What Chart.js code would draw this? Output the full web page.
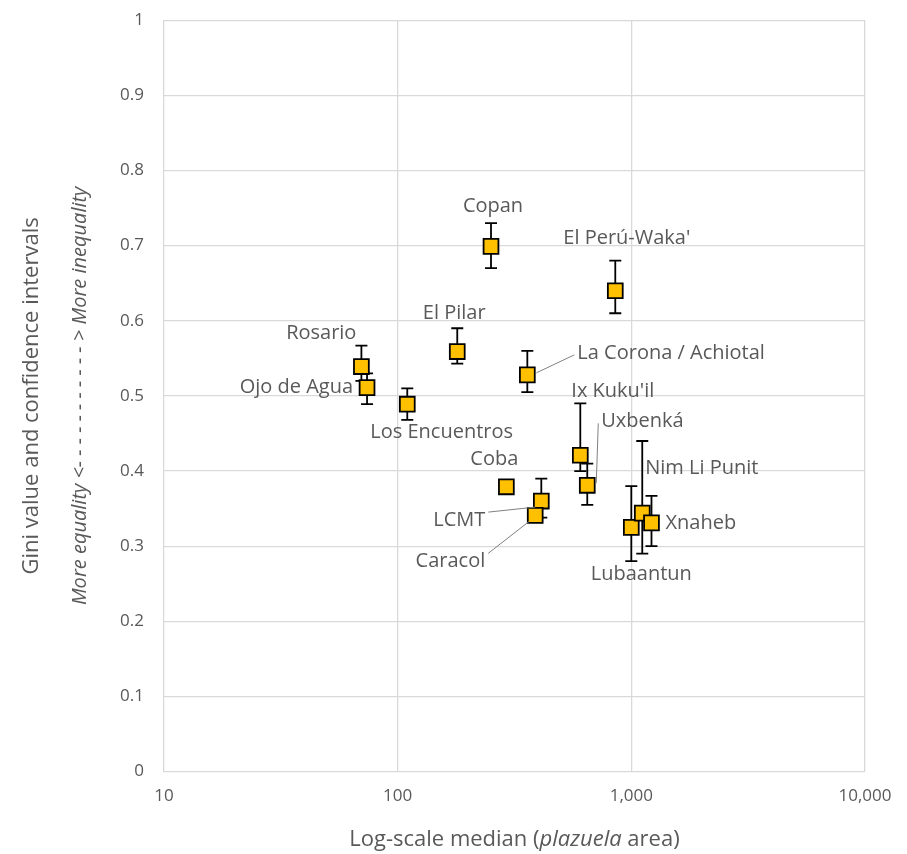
<!DOCTYPE html>
<html><head><meta charset="utf-8">
<script src="https://cdn.jsdelivr.net/npm/chart.js@4"></script>
<style>body{margin:0;background:#fff;overflow:hidden}#w{width:907px;height:872px;margin-top:-10px}</style>
</head><body><div id="w"><canvas id="c"></canvas></div>
<script>
const sites = ["Copan","El Perú-Waka'","Rosario","Ojo de Agua","Los Encuentros","El Pilar","La Corona / Achiotal","Ix Kuku'il","Uxbenká","Coba","LCMT","Caracol","Lubaantun","Nim Li Punit","Xnaheb"];
const medianArea = [251,854,70,74,110,180,359,605,648,292,412,388,1000,1114,1220];
const gini = [0.699,0.640,0.539,0.511,0.489,0.559,0.528,0.421,0.381,0.379,0.360,0.341,0.325,0.344,0.331];
const ciLow = [0.670,0.610,0.520,0.489,0.468,0.543,0.505,0.400,0.355,0.379,0.338,0.333,0.280,0.290,0.300];
const ciHigh = [0.730,0.680,0.567,0.530,0.510,0.590,0.560,0.490,0.410,0.379,0.390,0.345,0.380,0.440,0.367];
const xTicks = [10,100,1000,10000];
const yTicks = [0,0.1,0.2,0.3,0.4,0.5,0.6,0.7,0.8,0.9,1];
// label placement: [dx, dy, align, leaderLine]
const labelPlace = [
 [2,-40,'center',false],[-52,-52,'left',false],[-5,-33,'right',false],[-14,0,'right',false],
 [-37,28,'left',false],[-3,-38,'center',false],[50,-22,'left',true],[-9,-64,'left',false],
 [14,-64,'left',true],[-12,-28,'center',false],[-56,19,'right',true],[-50,46,'right',true],
 [10,47,'center',false],[3,-45,'left',false],[14,0,'left',false]];
const pts = medianArea.map((x,i)=>({x:x,y:gini[i]}));
const F='"Open Sans", "DejaVu Sans", sans-serif';
const errPlugin = {id:'err', beforeDatasetsDraw(ch){
  const c=ch.ctx,xs=ch.scales.x,ys=ch.scales.y;c.save();c.strokeStyle='#000';c.lineWidth=1.8;
  medianArea.forEach((m,i)=>{const x=xs.getPixelForValue(m),a=ys.getPixelForValue(ciLow[i]),b=ys.getPixelForValue(ciHigh[i]);
    c.beginPath();c.moveTo(x,a);c.lineTo(x,b);c.moveTo(x-6,a);c.lineTo(x+6,a);c.moveTo(x-6,b);c.lineTo(x+6,b);c.stroke();});
  c.restore();},
 afterDatasetsDraw(ch){
  const c=ch.ctx,xs=ch.scales.x,ys=ch.scales.y;c.save();
  c.font='20px '+F;c.fillStyle='#595959';c.textBaseline='middle';
  sites.forEach((s,i)=>{const x=xs.getPixelForValue(medianArea[i]),y=ys.getPixelForValue(gini[i]);const p=labelPlace[i];
    c.textAlign=p[2];const lx=x+p[0],ly=y+p[1];c.fillText(s,lx,ly);
    if(p[3]){c.strokeStyle='#808080';c.lineWidth=1;c.beginPath();
      let ex=p[2]==='right'?lx+3:lx-3;c.moveTo(ex,ly+(p[1]<0?2:-8));c.lineTo(x+(p[0]>0?9:-6),y+(p[1]<0?-2:6));c.stroke();}
  });
  const ca=ch.chartArea;
  c.fillStyle='#595959';
  c.font='22px '+F;
  const t1='Log-scale median (',t2='plazuela',t3=' area)';
  const w1=c.measureText(t1).width,w3=c.measureText(t3).width;
  c.font='italic 22px '+F;const w2=c.measureText(t2).width;
  let sx=(ca.left+ca.right)/2-(w1+w2+w3)/2,yy=850;c.textAlign='left';
  c.font='22px '+F;c.fillText(t1,sx,yy);
  c.font='italic 22px '+F;c.fillText(t2,sx+w1,yy);
  c.font='22px '+F;c.fillText(t3,sx+w1+w2,yy);
  c.save();c.translate(32,(ca.top+ca.bottom)/2);c.rotate(-Math.PI/2);c.textAlign='center';
  c.fillText('Gini value and confidence intervals',0,0);
  c.font='italic 20px '+F;
  c.fillText('More equality <- - - - - - - - - - - > More inequality',0,48);
  c.restore();c.restore();}};
new Chart(document.getElementById('c'),{type:'scatter',
 data:{datasets:[{data:pts,pointStyle:'rect',pointRadius:10.5,pointHoverRadius:10.5,backgroundColor:'#FFC000',borderColor:'#000',borderWidth:1.8}]},
 options:{responsive:true,maintainAspectRatio:false,animation:false,
  layout:{padding:{left:100,top:0,right:42,bottom:42}},
  plugins:{legend:{display:false},tooltip:{enabled:false}},
  scales:{
   x:{type:'logarithmic',min:10,max:10000,
     afterBuildTicks(a){a.ticks=xTicks.map(v=>({value:v}));},
     ticks:{autoSkip:false,maxRotation:0,padding:14,color:'#595959',font:{size:17,family:F},callback:v=>v.toLocaleString('en-US')},
     grid:{color:'#d9d9d9',lineWidth:1.3,drawTicks:false},border:{color:'#d9d9d9'}},
   y:{min:0,max:1,afterBuildTicks(a){a.ticks=yTicks.map(v=>({value:v}));},
     ticks:{padding:20,color:'#595959',font:{size:17,family:F},callback:v=>String(Math.round(v*10)/10)},
     grid:{color:'#d9d9d9',lineWidth:1.3,drawTicks:false},border:{color:'#d9d9d9'}}}}
 ,plugins:[errPlugin]});
</script></body></html>
